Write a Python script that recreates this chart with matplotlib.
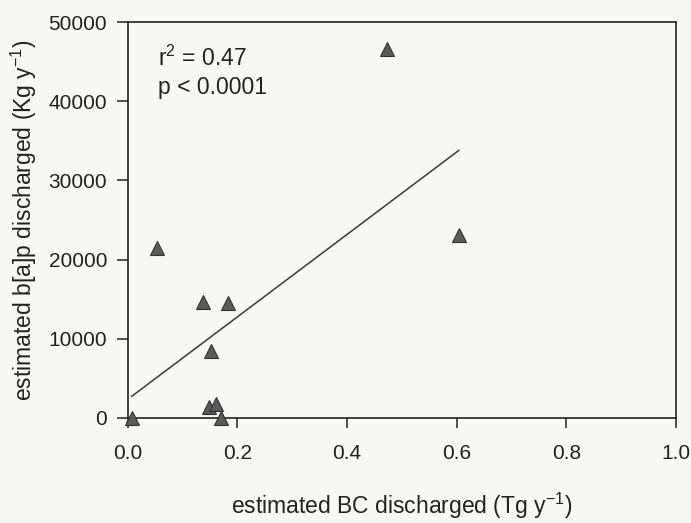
import numpy as np
import matplotlib
matplotlib.use('Agg')
import matplotlib.pyplot as plt

plt.rcParams['font.family'] = ['Liberation Sans', 'DejaVu Sans']
plt.rcParams['mathtext.fontset'] = 'custom'
plt.rcParams['mathtext.rm'] = 'Liberation Sans'
plt.rcParams['mathtext.it'] = 'Liberation Sans'

# estimated BC discharged (Tg/y) vs b[a]p discharged (Kg/y)
bc = [0.473, 0.604, 0.053, 0.137, 0.182, 0.151, 0.149, 0.160, 0.170, 0.007]
bap = [46600, 23100, 21460, 14680, 14560, 8500, 1430, 1770, 40, 40]

x_ticks = [0.0, 0.2, 0.4, 0.6, 0.8, 1.0]
y_ticks = [0, 10000, 20000, 30000, 40000, 50000]

bg = '#f7f7f6'

fig = plt.figure(figsize=(6.91, 5.23), dpi=100, facecolor=bg)
ax = fig.add_axes([0.185, 0.2008, 0.793, 0.757], facecolor=bg)

# linear fit across the data range
slope, intercept = np.polyfit(bc, bap, 1)
xs = np.array([min(bc), max(bc)])
ax.plot(xs, slope * xs + intercept, color='#3a3a3a', lw=1.1)

ax.plot(bc, bap, linestyle='none', marker='^', ms=10, color='#5a5a5a',
        markeredgecolor='#333333', markeredgewidth=0.8, clip_on=False, zorder=3)

ax.set_xlim(0, 1.0)
ax.set_ylim(0, 50000)
ax.set_xticks(x_ticks)
ax.set_xticklabels([f'{v:.1f}' for v in x_ticks])
ax.set_yticks(y_ticks)
ax.set_yticklabels([str(v) for v in y_ticks])

ax.tick_params(axis='x', direction='out', length=7, width=1.1, pad=12,
               labelsize=15, colors='#222222')
ax.tick_params(axis='y', direction='out', length=8, width=1.1, pad=7,
               labelsize=15, colors='#222222')
for s in ax.spines.values():
    s.set_linewidth(1.2)
    s.set_color('#222222')

ax.set_xlabel('estimated BC discharged (Tg y$^{-1}$)', fontsize=16.5,
              labelpad=20, color='#222222')
ax.set_ylabel('estimated b[a]p discharged (Kg y$^{-1}$)', fontsize=16.5,
              labelpad=7, color='#222222')

ax.text(0.055, 0.94, 'r$^2$ = 0.47\np < 0.0001', transform=ax.transAxes,
        fontsize=16.5, va='top', ha='left', color='#222222', linespacing=1.3)

fig.savefig('out.png', dpi=100, facecolor=bg)
